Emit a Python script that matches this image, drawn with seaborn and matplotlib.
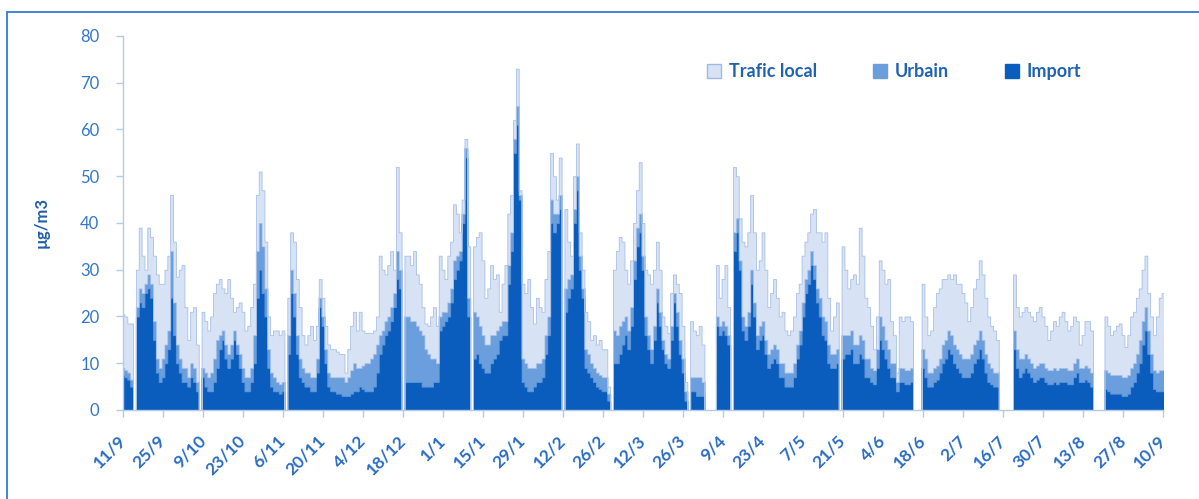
import numpy as np
import pandas as pd
import matplotlib
matplotlib.use("Agg")
import matplotlib.pyplot as plt
from matplotlib.colors import to_hex
from matplotlib.patches import Patch, Rectangle
import seaborn as sns

nan = np.nan

# Fortnightly date labels, 11 September to 10 September
tick_labels = ["11/9", "25/9", "9/10", "23/10", "6/11", "20/11", "4/12", "18/12",
               "1/1", "15/1", "29/1", "12/2", "26/2", "12/3", "26/3", "9/4",
               "23/4", "7/5", "21/5", "4/6", "18/6", "2/7", "16/7", "30/7",
               "13/8", "27/8", "10/9"]

series_names = ["Trafic local", "Urbain", "Import"]

# Daily contributions in µg/m3, one value per day starting 11/9 (nan = no data)
import_vals = [
    7.5, 7, 6.5, 5, nan, 20, 23, 22, 25, 26,
    24, 15, 8, 6, 7, 10, 13, 24, 16, 10,
    8, 6, 6, 5, 7, 6, 4, nan, 7, 5,
    4, 4, 6, 9, 13, 15, 11, 9, 11, 15,
    12, 9, 6, 4, 4, 6, 10, 24, 30, 25,
    20, 9, 5, 4, 4, 3.5, 4, nan, 12, 25,
    20, 12, 7, 6, 5, 5, 4, 4, 8, 22,
    18, 10, 5, 4, 4, 3.5, 3.5, 3, 3, 3,
    3.5, 4, 4, 5, 4.5, 4, 4, 4, 5, 8,
    12, 14, 16, 17, 19, 22, 28, 26, nan, 6,
    6, 6, 6, 6, 6, 5, 5, 5, 5, 6,
    6, 17, 18, 19, 20, 23, 28, 30, 32, 40,
    54, 20, nan, 11, 12, 10, 9, 8, 8, 10,
    11, 12, 15, 16, 16, 27, 34, 55, 61, 45,
    6, 5, 4, 4, 5, 6, 6, 7, 12, 16,
    40, 38, 40, 43, nan, 21, 24, 26, 40, 47,
    30, 24, 9, 8, 7, 6, 5, 4.5, 4, 4,
    2, nan, 10, 10, 12, 14, 16, 13, 18, 28,
    35, 38, 30, 16, 13, 10, 15, 23, 18, 13,
    10, 9, 15, 23, 18, 12, 8, 2, nan, 4,
    4, 3, 3, 3, nan, nan, nan, nan, 18, 16,
    17, 16, 14, nan, 34, 38, 30, 17, 15, 18,
    27, 20, 13, 15, 16, 12, 9, 10, 11, 10,
    7, 7, 5, 5, 5, 7, 11, 14, 20, 25,
    27, 31, 28, 23, 20, 16, 15, 10, 9, 9,
    10, nan, 11, 12, 12, 13, 10, 10, 12, 11,
    7, 7, 6, 5.5, 9, 15, 13, 11, 9, 7,
    7, 4, 6, 6, 5.5, 5.5, 6, nan, nan, nan,
    9, 7, 5, 5, 6, 6.5, 8, 10, 11, 13,
    12, 10, 9, 8, 7, 7, 7, 8, 10, 11,
    13, 11, 8, 6, 5.5, 5, 5, nan, nan, nan,
    nan, nan, 13, 9, 7, 8, 9, 8, 7, 6,
    6.5, 7, 7, 6, 5.5, 5.5, 6, 5.5, 6, 6,
    6, 5.5, 5.5, 7, 8, 6, 6, 6.5, 6, 5,
    nan, nan, nan, nan, 4.5, 4, 3.5, 3.5, 3.5, 3.5,
    3, 3, 3.5, 5, 6, 8, 10, 14, 17, 12,
    8, 4.5, 4, 4, 4,
]

urbain_vals = [
    1.5, 1.5, 1.5, 1.5, nan, 2, 3, 3, 2, 3,
    3, 4, 3, 3, 4, 4, 4, 10, 7, 4,
    3, 3, 3, 2, 3, 3, 2, nan, 2, 3,
    3, 4, 5, 6, 3, 2, 3, 3, 3, 2,
    2, 3, 3, 3, 3, 3, 6, 10, 10, 10,
    6, 4, 3, 3, 2, 2, 2, nan, 4, 5,
    5, 4, 4, 3, 3, 3, 3, 3, 3, 2,
    2, 3, 3, 3, 3, 3.5, 3.5, 4, 3, 4,
    5, 6, 5, 4, 5, 6, 6, 7, 7, 6,
    4, 3, 3, 3, 3, 3, 6, 4, nan, 14,
    14, 13, 13, 12, 11, 11, 8, 7, 6, 5,
    4, 3, 3, 2, 3, 3, 4, 3, 2, 2,
    2, 4, nan, 10, 8, 8, 7, 6, 6, 6,
    5, 5, 3, 3, 3, 4, 4, 3, 4, 1,
    5, 5, 5, 5, 4, 4, 4, 4, 4, 4,
    5, 4, 2, 3, nan, 5, 4, 3, 3, 3,
    3, 2, 4, 4, 3, 3, 3, 3, 3, 3,
    1.5, nan, 7, 6, 6, 5, 4, 4, 4, 4,
    4, 4, 3, 4, 3, 3, 3, 3, 3, 2,
    2, 2, 3, 2, 3, 3, 3, 2, nan, 3,
    3, 4, 4, 3, nan, nan, nan, nan, 2, 2,
    2, 2, 2, nan, 4, 3, 2, 3, 3, 3,
    3, 3, 3, 3, 3, 3, 3, 3, 3, 3,
    3, 3, 3, 3, 3, 3, 3, 3, 3, 3,
    3, 3, 3, 3, 4, 4, 4, 4, 3, 3,
    3, nan, 5, 4, 4, 4, 4, 4, 4, 4,
    4, 4, 3, 3, 4, 5, 5, 4, 4, 3,
    3, 2, 3, 3, 3, 3, 3, nan, nan, nan,
    4, 4, 3, 3, 3, 3, 3, 4, 4, 4,
    4, 4, 4, 4, 4, 4, 4, 4, 4, 4,
    4, 4, 4, 4, 3.5, 3, 3, nan, nan, nan,
    nan, nan, 4, 4, 4, 3, 3, 3, 3, 3,
    3, 3, 3, 3, 3, 3, 3, 3, 3, 3,
    3, 3, 3, 3, 3, 3, 3, 3, 3, 3,
    nan, nan, nan, nan, 4, 4, 4, 4, 4, 4,
    4, 4, 4, 4, 4, 4, 5, 5, 5, 5,
    4, 4, 4, 4.5, 4.5,
]

trafic_vals = [
    11.5, 11.5, 10.5, 12, nan, 8, 13, 8, 3, 10,
    10, 14, 18, 18, 16, 16, 16, 12, 13, 14.5,
    19, 22, 13, 8, 11, 13, 8, nan, 12, 11,
    10, 12, 14, 12, 12, 9, 11, 16, 10, 4,
    8, 11, 12, 10, 11, 13, 11, 12, 11, 12,
    10, 7, 8, 10, 11, 10.5, 11, nan, 8, 8,
    11, 12, 11, 7, 6, 8, 11, 8, 7, 4,
    4, 5, 6, 6, 6, 5.5, 5, 5, 2, 6,
    9.5, 11, 8, 12, 7.5, 6.5, 6.5, 5.5, 5, 6,
    17, 13, 10, 11, 12, 5, 18, 8, nan, 13,
    13, 12, 15, 11, 10, 6, 5.5, 6, 9, 11,
    8, 13, 9, 7, 10, 10, 12, 9, 4, 3,
    2, 11, nan, 14, 17, 20, 16, 10, 12, 15,
    12, 12, 3, 8, 12, 11, 8, 4, 8, 1,
    16, 15, 19, 13, 9.5, 14, 12, 10, 12, 14,
    10, 8, 3, 8, nan, 17, 8, 4, 7, 7,
    5, 4, 8, 7, 5, 7, 6, 7.5, 6, 6,
    1.5, nan, 13, 18, 19, 17, 10, 10, 10, 8,
    8, 11, 7, 10, 13, 14, 12, 10, 9, 5,
    6, 5.5, 7, 4, 6, 10, 7, 2, nan, 12,
    10, 9, 11, 8, nan, nan, nan, nan, 11, 6,
    9, 13, 6, nan, 14, 9, 9, 16, 17, 17,
    16, 15, 14, 14, 19, 15, 10, 12, 14, 11,
    10, 11, 9, 8, 9, 10, 11, 10, 10, 8,
    8, 8, 12, 12, 14, 16, 19, 10, 5, 8,
    10, nan, 19, 14, 10, 11, 15, 13, 23, 18,
    13, 11, 9, 4.5, 7, 12, 12, 12, 15, 9,
    6, 2, 11, 10, 11.5, 11.5, 10, nan, nan, nan,
    14, 9, 8, 9, 13, 15.5, 15, 14, 13, 12,
    12, 15, 14, 15, 14, 12, 8, 10, 12, 13,
    15, 14, 12, 10, 9, 9, 7, nan, nan, nan,
    nan, nan, 12, 9, 9, 10, 10, 10, 10, 10,
    11.5, 12, 10, 9, 6.5, 8.5, 10, 9.5, 11, 12,
    10, 8.5, 9.5, 10, 8, 5, 7, 9.5, 10, 9,
    nan, nan, nan, nan, 11.5, 10, 8.5, 9.5, 10.5, 11,
    9, 6.5, 8.5, 11, 11, 12, 11, 11, 11, 8,
    8, 7.5, 12, 15.5, 16.5,
]

palette = {"Trafic local": "#d7e2f4", "Urbain": "#6a9edc", "Import": "#0b5dbd"}
outline = {"Trafic local": "#a7c0e7", "Urbain": "#5b93d8", "Import": "#0b5dbd"}
text_blue = "#2a6cc4"
axis_blue = "#b3cbeb"

days = np.arange(len(import_vals))
wide = pd.DataFrame({"jour": days, "Import": import_vals,
                     "Urbain": urbain_vals, "Trafic local": trafic_vals})
long = wide.melt(id_vars="jour", var_name="source", value_name="conc").dropna()

sns.set_theme(style="white")
plt.rcParams["font.family"] = ["Lato", "DejaVu Sans"]

fig = plt.figure(figsize=(11.99, 4.99), dpi=100)
ax = fig.add_axes([0.1026, 0.1784, 0.8674, 0.7495])

sns.histplot(data=long, x="jour", weights="conc", hue="source",
             hue_order=series_names, palette=palette, multiple="stack",
             element="step", binwidth=1, binrange=(-0.5, len(days) - 0.5),
             alpha=1, linewidth=0, legend=False, ax=ax)

# thin outline on each stacked layer
for coll in ax.collections:
    face = to_hex(coll.get_facecolor()[0])
    for name, col in palette.items():
        if face == to_hex(col):
            coll.set_edgecolor(outline[name])
            coll.set_linewidth(0.6)

ax.set_xlim(0, len(days) - 1)
ax.set_ylim(0, 80)
ax.set_yticks(np.arange(0, 81, 10))
ax.set_xticks(np.arange(0, len(days), 14))
ax.set_xticklabels(tick_labels, rotation=45, ha="right", va="center",
                   rotation_mode="anchor", fontweight="bold", fontsize=12.5,
                   color=text_blue)
for lab in ax.get_yticklabels():
    lab.set_color("#3477c9")
    lab.set_fontsize(12)

ax.set_xlabel("")
ax.set_ylabel("µg/m3", fontsize=12, fontweight="bold", color="#1e5eab", labelpad=22)

for side in ("top", "right"):
    ax.spines[side].set_visible(False)
for side in ("left", "bottom"):
    ax.spines[side].set_color(axis_blue)
    ax.spines[side].set_linewidth(1.0)
ax.tick_params(axis="both", bottom=True, left=True, direction="out",
               length=5, width=1, color=axis_blue)
ax.tick_params(axis="x", pad=15)
ax.tick_params(axis="y", pad=12)

handles = [Patch(facecolor=palette[n],
                 edgecolor="#9fb9e2" if n == "Trafic local" else palette[n],
                 label=n) for n in series_names]
ax.legend(handles=handles, ncol=3, loc="center left", bbox_to_anchor=(0.5615, 0.904),
          frameon=False, handlelength=0.8, handleheight=0.8, handletextpad=0.4,
          columnspacing=3.1, borderpad=0, borderaxespad=0,
          prop={"weight": "bold", "size": 13}, labelcolor="#1f62b5")

fig.add_artist(Rectangle((7 / 1199, -0.05), 1.2, 1.05 - 12 / 499,
                         transform=fig.transFigure, fill=False,
                         edgecolor="#2f7bd6", linewidth=1.3))

fig.savefig("out.png", dpi=100, facecolor="white")
